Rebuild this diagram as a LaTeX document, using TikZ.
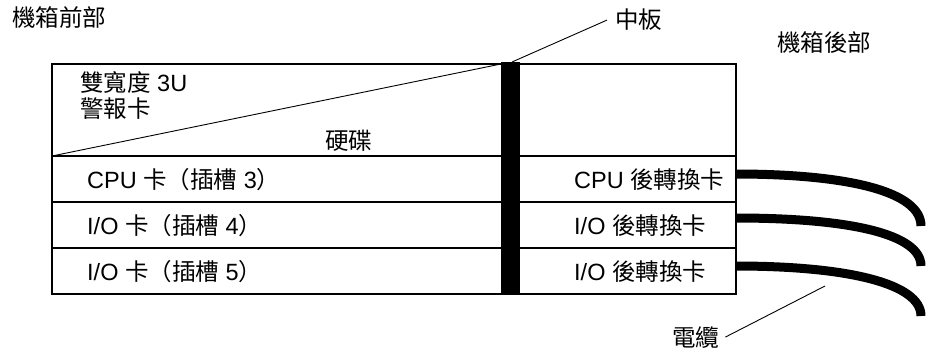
\documentclass[tikz,border=0pt]{standalone}
\usepackage{fontspec}
\setmainfont{Liberation Sans}
\newfontfamily\cjk{Noto Sans CJK TC}
\begin{document}
\begin{tikzpicture}[x=1pt,y=-1pt,
  box/.style={line width=1.5pt},
  lead/.style={line width=0.9pt},
  cable/.style={line width=9pt},
  lbl/.style={font=\fontsize{23.5}{26}\selectfont, inner sep=0pt, anchor=base west},
]
\useasboundingbox (0,0) rectangle (926,353);
% front box
\draw[box] (52,64) rectangle (510,294);
\draw[box] (52,156) -- (510,156);
\draw[box] (52,202) -- (510,202);
\draw[box] (52,248) -- (510,248);
\draw[lead] (52,156) -- (501,64);
% rear box
\draw[box] (510,64) rectangle (736,294);
\draw[box] (510,156) -- (736,156);
\draw[box] (510,202) -- (736,202);
\draw[box] (510,248) -- (736,248);
% midplane
\fill (501,62) rectangle (520,294);
\coordinate (mp) at (512,62);
% cables
\draw[cable] (735,174) .. controls (850,174) and (921,192) .. (921,226);
\draw[cable] (735,218) .. controls (850,218) and (921,234) .. (921,266);
\draw[cable] (735,266) .. controls (850,266) and (921,284) .. (921,316);
\coordinate (cb) at (825,286);
% labels
\node[lbl] (front) at (12,27) {\cjk 機箱前部};
\node[lbl] (mid) at (615,29) {\cjk 中板};
\node[lbl] (rear) at (777,52) {\cjk 機箱後部};
\node[lbl] (alarm1) at (80,92) {{\cjk 雙寬度} 3U};
\node[lbl] (alarm2) at (80,117) {\cjk 警報卡};
\node[lbl] (disk) at (325,149) {\cjk 硬碟};
\node[lbl] (cpu) at (87,188) {CPU {\cjk 卡（插槽} 3{\cjk ）}};
\node[lbl] (io4) at (87,234) {I/O {\cjk 卡（插槽} 4{\cjk ）}};
\node[lbl] (io5) at (87,280) {I/O {\cjk 卡（插槽} 5{\cjk ）}};
\node[lbl] (rcpu) at (574,188) {CPU {\cjk 後轉換卡}};
\node[lbl] (rio1) at (574,234) {I/O {\cjk 後轉換卡}};
\node[lbl] (rio2) at (574,280) {I/O {\cjk 後轉換卡}};
\node[lbl] (cable) at (672,346) {\cjk 電纜};
% leaders
\draw[lead] (mp) -- ([xshift=-8pt]mid.west);
\draw[lead] (cb) -- ([xshift=6pt]cable.east);
\end{tikzpicture}
\end{document}
